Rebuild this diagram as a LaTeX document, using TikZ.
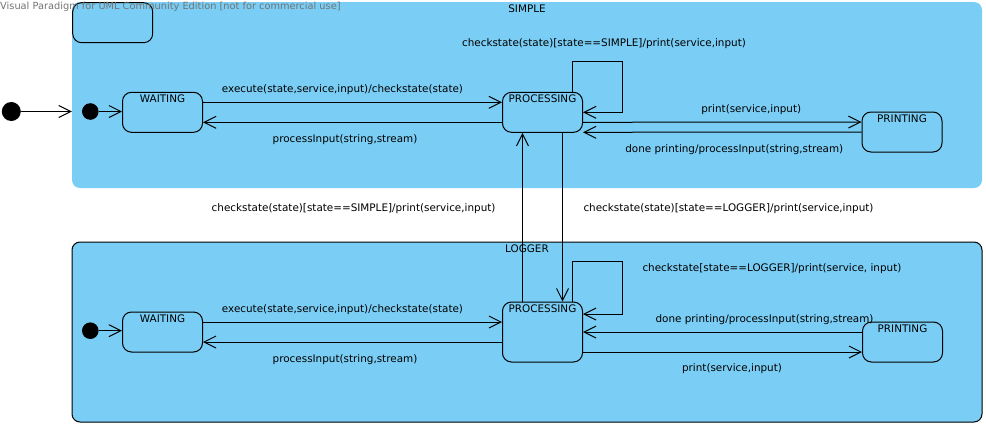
\documentclass[tikz,border=0pt]{standalone}
\usepackage{fontspec}
\setmainfont{DejaVu Sans}
\usetikzlibrary{arrows.meta,positioning}
\definecolor{vpblue}{RGB}{122,206,245}
\definecolor{vpgray}{RGB}{115,115,115}
\newcommand{\vpfont}{\fontsize{10.4}{12}\selectfont}
\tikzset{
  region/.style={fill=vpblue, rounded corners=8pt, inner sep=0pt, minimum width=910pt},
  statebox/.style={draw=black, fill=vpblue, rounded corners=9pt, line width=1pt,
    inner sep=0pt, minimum width=80pt, minimum height=40pt},
  stname/.style={anchor=north, inner sep=0pt, yshift=-3.2pt, font=\vpfont},
  initdot/.style={circle, fill=black, inner sep=0pt, minimum size=16.6pt},
  edge/.style={-{Straight Barb[length=12pt,width=12pt]}, line width=1pt},
  lbl/.style={inner sep=0pt, font=\vpfont},
  lblup/.style={lbl, yshift=13pt},
  lbldn/.style={lbl, yshift=-17.5pt},
  watermark/.style={inner sep=0pt, text=vpgray, font=\fontsize{9.8}{11}\selectfont}
}

\begin{document}
\begin{tikzpicture}[x=1pt, y=-1pt]
  \useasboundingbox (0,0) rectangle (986,426);
  % composite states
  \node[region, minimum height=186pt, label={[stname]north:SIMPLE}] (simple) at (527,95) {};
  \node[region, draw=black, line width=1pt, minimum height=180pt,
        label={[stname]north:LOGGER}] (logger) at (527,332) {};
  \node[statebox] (blank) at (112.7,22.7) {};

  % SIMPLE
  \node[initdot, minimum size=19pt] (init0) at (11.3,111.5) {};
  \node[initdot] (init1) at (90.3,111.5) {};
  \node[statebox, label={[stname]north:WAITING}] (wait1) at (162.5,112.3) {};
  \node[statebox, label={[stname]north:PROCESSING}] (proc1) at (542.5,112.3) {};
  \node[statebox, label={[stname]north:PRINTING}] (prt1) at (902,132) {};

  % LOGGER
  \node[initdot] (init2) at (90.3,330.7) {};
  \node[statebox, label={[stname]north:WAITING}] (wait2) at (162.5,332) {};
  \node[statebox, minimum height=60pt, label={[stname]north:PROCESSING}] (proc2) at (542.5,332) {};
  \node[statebox, label={[stname]north:PRINTING}] (prt2) at (902.5,342) {};

  \draw[edge] (init0) -- (init0 -| simple.west);
  \draw[edge] (init1) -- (init1 -| wait1.west);
  \draw[edge] ([yshift=10pt]wait1.east) to node[lblup, xshift=-10pt] {execute(state,service,input)/checkstate(state)} ([yshift=10pt]proc1.west);
  \draw[edge] ([yshift=-10pt]proc1.west) to node[lbldn, xshift=-7.5pt] {processInput(string,stream)} ([yshift=-10pt]wait1.east);
  \draw[edge] ([xshift=30pt]proc1.north) -- ++(0,-30)
    -- node[lbl, xshift=6.5pt, yshift=18.3pt] {checkstate(state)[state==SIMPLE]/print(service,input)} ++(50,0)
    |- (proc1.east);
  \draw[edge] ([yshift=-10pt]proc1.east) to node[lblup, xshift=29pt] {print(service,input)} ([yshift=10pt]prt1.west);
  \draw[edge] (prt1.west) to node[lbldn, xshift=12pt] {done printing/processInput(string,stream)} ([yshift=-20pt]proc1.east);

  % between the regions
  \draw[edge] ([xshift=-20pt]proc2.north) to node[lbl, anchor=east, xshift=-26.5pt, yshift=9pt] {checkstate(state)[state==SIMPLE]/print(service,input)} ([xshift=-20pt]proc1.south);
  \draw[edge] ([xshift=20pt]proc1.south) to node[lbl, anchor=west, xshift=20.5pt, yshift=9pt] {checkstate(state)[state==LOGGER]/print(service,input)} ([xshift=20pt]proc2.north);

  \draw[edge] (init2) -- (init2 -| wait2.west);
  \draw[edge] ([yshift=10pt]wait2.east) to node[lbl, xshift=-10pt, yshift=12.7pt] {execute(state,service,input)/checkstate(state)} ([yshift=10pt]proc2.west);
  \draw[edge] ([yshift=-10pt]proc2.west) to node[lbldn, xshift=-7.5pt] {processInput(string,stream)} ([yshift=-10pt]wait2.east);
  \draw[edge] ([xshift=30pt]proc2.north) -- ++(0,-40) -- ++(50,0)
    node[lbl, anchor=west, xshift=19.5pt, yshift=-7.3pt] {checkstate[state==LOGGER]/print(service, input)}
    |- ([yshift=18pt]proc2.east);
  \draw[edge] ([yshift=10pt]prt2.west) to node[lbl, xshift=42pt, yshift=12pt] {done printing/processInput(string,stream)} (proc2.east);
  \draw[edge] ([yshift=-20pt]proc2.east) to node[lbl, xshift=9.5pt, yshift=-17pt] {print(service,input)} ([yshift=-10pt]prt2.west);

  \node[watermark, anchor=west] (wm) at (0,7) {Visual Paradigm for UML Community Edition [not for commercial use]};
\end{tikzpicture}
\end{document}
